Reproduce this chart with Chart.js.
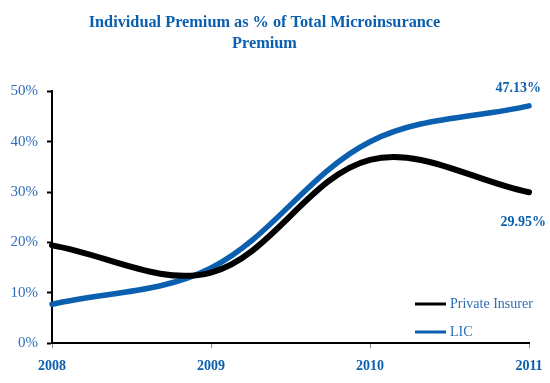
<!DOCTYPE html>
<html>
<head>
<meta charset="utf-8">
<script src="https://cdn.jsdelivr.net/npm/chart.js@4.4.1/dist/chart.umd.min.js"></script>
<style>
  html, body { margin: 0; padding: 0; background: #fff; }
  #wrap { width: 550px; height: 383px; }
</style>
</head>
<body>
<div id="wrap"><canvas id="premiumChart" width="550" height="383"></canvas></div>
<script>
const years = ["2008", "2009", "2010", "2011"];
const privateInsurer = [19.4, 14.0, 36.4, 29.95];
const lic = [7.7, 14.9, 40.0, 47.13];
const yTicks = [0, 10, 20, 30, 40, 50];

const SERIF = "'Liberation Serif', 'Times New Roman', serif";
const BLUE = "#0B5FAF";
const LABEL_BLUE = "#2E6DB8";

// value label next to the last point of each line
const endLabels = {
  id: "endLabels",
  afterDatasetsDraw(chart) {
    const ctx = chart.ctx;
    const offsets = [{ dx: 17, dy: 30 }, { dx: 12, dy: -17 }];
    ctx.save();
    ctx.font = "bold 14px " + SERIF;
    ctx.fillStyle = BLUE;
    ctx.textAlign = "right";
    ctx.textBaseline = "middle";
    chart.data.datasets.forEach((ds, i) => {
      const pts = chart.getDatasetMeta(i).data;
      const p = pts[pts.length - 1];
      const v = ds.data[ds.data.length - 1];
      ctx.fillText(v.toFixed(2) + "%", p.x + offsets[i].dx, p.y + offsets[i].dy);
    });
    ctx.restore();
  }
};

// legend drawn inside the plot, lower right
const innerLegend = {
  id: "innerLegend",
  afterDraw(chart) {
    const ctx = chart.ctx;
    const area = chart.chartArea;
    const x0 = area.right - 114;
    let y = area.bottom - 39;
    ctx.save();
    ctx.font = "14px " + SERIF;
    ctx.textBaseline = "middle";
    chart.data.datasets.forEach(ds => {
      ctx.strokeStyle = ds.borderColor;
      ctx.lineWidth = 3;
      ctx.beginPath();
      ctx.moveTo(x0, y);
      ctx.lineTo(x0 + 31, y);
      ctx.stroke();
      ctx.fillStyle = LABEL_BLUE;
      ctx.fillText(ds.label, x0 + 35, y);
      y += 28;
    });
    ctx.restore();
  }
};

new Chart(document.getElementById("premiumChart"), {
  type: "line",
  data: {
    labels: years,
    datasets: [
      {
        label: "Private Insurer",
        data: privateInsurer,
        borderColor: "#000000",
        borderWidth: 6,
        tension: 0.35,
        pointRadius: 0,
        borderCapStyle: "round"
      },
      {
        label: "LIC",
        data: lic,
        borderColor: BLUE,
        borderWidth: 5.5,
        tension: 0.35,
        pointRadius: 0,
        borderCapStyle: "round"
      }
    ]
  },
  options: {
    responsive: false,
    animation: false,
    clip: false,
    layout: { padding: { left: 0, right: 21, bottom: 0 } },
    plugins: {
      legend: { display: false },
      tooltip: { enabled: false },
      title: {
        display: true,
        text: ["Individual Premium as % of Total Microinsurance", "Premium"],
        color: BLUE,
        font: { family: SERIF, size: 16.3, weight: "bold", lineHeight: 1.3 },
        padding: { top: 12, bottom: 37 }
      }
    },
    scales: {
      x: {
        offset: false,
        afterFit(scale) {
          scale.height = 40;
          scale.paddingLeft = 0;
          scale.paddingRight = 0;
        },
        border: { color: "#000", width: 2 },
        grid: { drawOnChartArea: false, drawTicks: true, tickLength: 5, tickColor: "#888", tickWidth: 1 },
        ticks: {
          color: BLUE,
          padding: 10,
          maxRotation: 0,
          font: { family: SERIF, size: 14, weight: "bold" }
        }
      },
      y: {
        min: 0,
        max: 50,
        afterFit(scale) { scale.width = 52; },
        afterBuildTicks(scale) { scale.ticks = yTicks.map(v => ({ value: v })); },
        border: { color: "#000", width: 2 },
        grid: { drawOnChartArea: false, drawTicks: true, tickLength: 5, tickColor: "#000", tickWidth: 2 },
        ticks: {
          color: LABEL_BLUE,
          padding: 9,
          font: { family: SERIF, size: 15 },
          callback: v => v + "%"
        }
      }
    }
  },
  plugins: [endLabels, innerLegend]
});
</script>
</body>
</html>
